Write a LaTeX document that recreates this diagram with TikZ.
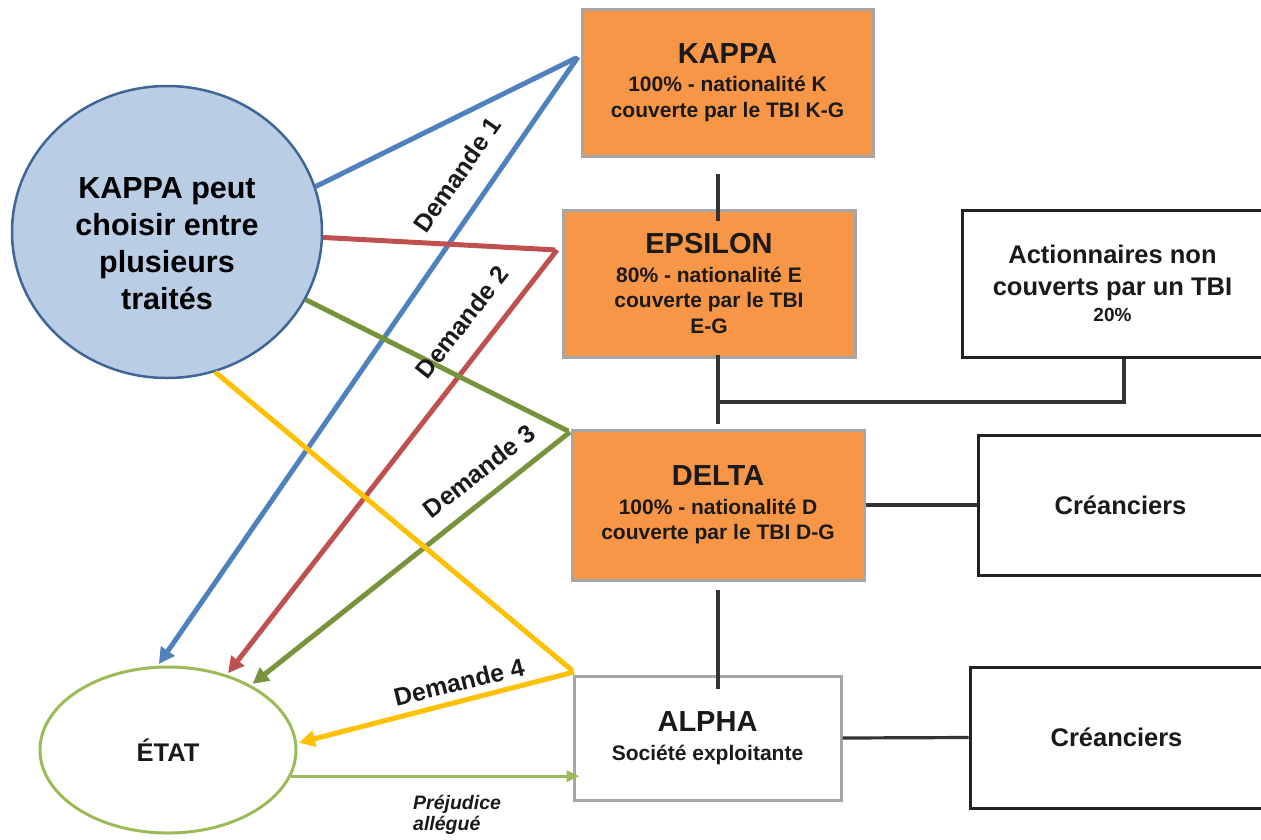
\documentclass[tikz,border=0pt]{standalone}
\usepackage{fontspec}
\setmainfont{Liberation Sans}
\usetikzlibrary{shapes.geometric,arrows.meta,calc}
\definecolor{orangefill}{HTML}{F79646}
\definecolor{boxgray}{HTML}{A6A6A6}
\definecolor{boxblack}{HTML}{222222}
\definecolor{linkgray}{HTML}{333333}
\definecolor{textdark}{HTML}{1A1A1A}
\definecolor{circfill}{HTML}{B9CDE5}
\definecolor{circline}{HTML}{3E6696}
\definecolor{bluec}{HTML}{4F81BD}
\definecolor{redc}{HTML}{C0504D}
\definecolor{greenc}{HTML}{77933C}
\definecolor{yellowc}{HTML}{FFC000}
\definecolor{etatc}{HTML}{9BBB59}
\newcommand\ttlfont{\fontsize{29}{34}\selectfont\bfseries}
\newcommand\subfont{\fontsize{21}{25.5}\selectfont\bfseries}
\newcommand\crfont{\fontsize{25.5}{32}\selectfont\bfseries}
\newcommand\dmfont{\fontsize{25}{29}\selectfont\bfseries}
\begin{document}
\begin{tikzpicture}[x=1pt,y=-1pt,
  orgbox/.style={draw=boxgray,line width=3pt,fill=orangefill,align=center,inner sep=0pt,text=textdark,font=\subfont},
  whitebox/.style={draw=boxgray,line width=3pt,fill=white,align=center,inner sep=0pt,text=textdark,font=\subfont},
  blackbox/.style={draw=boxblack,line width=3pt,fill=white,align=center,inner sep=0pt,text=textdark,font=\crfont},
  link/.style={draw=linkgray,line width=3.2pt},
  demline/.style={line width=5pt,-{Triangle[length=16pt,width=16pt]},shorten >=2pt},
  lbl/.style={font=\dmfont,text=textdark,inner sep=0pt},
]
\useasboundingbox (0,0) rectangle (1261,839);
\clip (0,0) rectangle (1261,839);

% ellipses
\node[ellipse,draw=circline,line width=2.5pt,fill=circfill,minimum width=310pt,minimum height=292pt,inner sep=0pt] (circ) at (167,232) {};
\node[align=center,inner sep=0pt,text=black,font=\fontsize{30.5}{37}\selectfont\bfseries] (circT) at (167,244) {KAPPA peut\\choisir entre\\plusieurs\\traités};
\node[ellipse,draw=etatc,line width=3pt,fill=white,minimum width=256pt,minimum height=166pt,inner sep=0pt,text=textdark,font=\fontsize{25.5}{30}\selectfont\bfseries] (etat) at (168,750) {ÉTAT};

% vertices of the demand lines
\coordinate (v1) at (578,57);
\coordinate (v2) at (557,250);
\coordinate (v3) at (570,432);
\coordinate (v4) at (574,672);

\draw[demline,draw=bluec,-] (circ.17.6) -- (v1);
\draw[demline,draw=bluec] (v1) -- (etat.97.8);
\draw[demline,draw=redc,-] (circ.-2.2) -- (v2);
\draw[demline,draw=redc] (v2) -- (etat.52.5);
\draw[demline,draw=greenc,-] (circ.-26.9) -- (v3);
\draw[demline,draw=greenc] (v3) -- (etat.38.9);
\draw[demline,draw=yellowc,-] (circ.-71.9) -- (v4);
\draw[demline,draw=yellowc] (v4) -- (etat.3.9);

% boxes
\node[orgbox,minimum width=291pt,minimum height=147pt] (kappa) at (727.5,82.5)
  {{\ttlfont KAPPA}\\[3pt]100\% - nationalité K\\couverte par le TBI K-G};
\node[orgbox,minimum width=292pt,minimum height=147pt] (epsilon) at (709,283.5)
  {{\ttlfont EPSILON}\\[3pt]80\% - nationalité E\\couverte par le TBI\\E-G};
\node[orgbox,minimum width=292pt,minimum height=150pt] (delta) at (718,505)
  {{\ttlfont DELTA}\\[3pt]100\% - nationalité D\\couverte par le TBI D-G};
\node[whitebox,minimum width=267pt,minimum height=124pt] (alpha) at (707.5,738)
  {{\ttlfont ALPHA}\\[3pt]Société exploitante};
\node[blackbox,minimum width=301pt,minimum height=147pt] (act) at (1112.5,283.5)
  {Actionnaires non\\couverts par un TBI\\[-6pt]{\fontsize{19}{22}\selectfont 20\%}};
\node[blackbox,minimum width=285pt,minimum height=140pt] (cr1) at (1120.5,505) {Créanciers};
\node[blackbox,minimum width=293pt,minimum height=141pt] (cr2) at (1116.5,737.5) {Créanciers};

% ownership links
\coordinate (spine) at (718,0);
\coordinate (j1) at (718,402);
\draw[link] ($(spine |- kappa.south)+(0,16)$) -- ($(spine |- epsilon.north)+(0,12)$);
\draw[link] ($(spine |- epsilon.south)+(0,-4)$) -- ($(spine |- delta.north)+(0,-5)$);
\draw[link] (j1) -- (j1 -| 1124,0) -- (act.south -| 1124,0);
\draw[link] ($(spine |- delta.south)+(0,8)$) -- ($(spine |- alpha.north)+(0,14)$);
\draw[link] (delta.east) -- (cr1.west);
\draw[link] (alpha.east) -- (cr2.west);

% prejudice arrow
\draw[draw=etatc,line width=3pt,-{Triangle[length=13pt,width=11pt]},shorten >=-7pt] (etat.-12) -- (etat.-12 -| alpha.west);
\node[align=left,anchor=north west,inner sep=0pt,text=textdark,font=\fontsize{19.5}{21}\selectfont\bfseries\itshape] (prej) at (413,795) {Préjudice\\allégué};

% demand labels
\node[lbl,rotate=55] (d1) at (457,175) {Demande 1};
\node[lbl,rotate=52] (d2) at (462,322) {Demande 2};
\node[lbl,rotate=38] (d3) at (479,471) {Demande 3};
\node[lbl,rotate=13.6] (d4) at (459,682) {Demande 4};
\end{tikzpicture}
\end{document}
